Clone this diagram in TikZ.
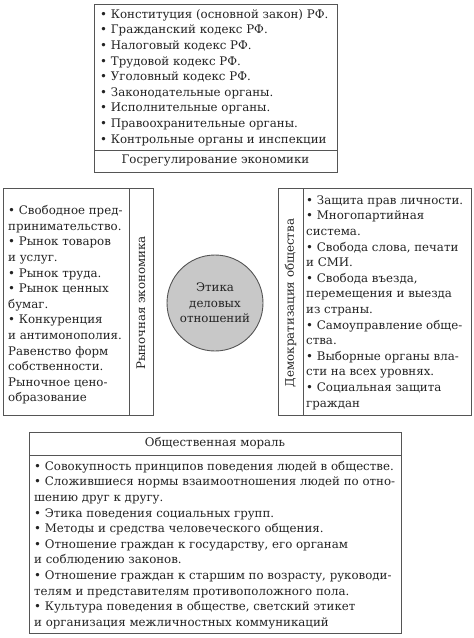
\documentclass[tikz,border=0pt]{standalone}
\usepackage{fontspec}
\setmainfont{DejaVu Serif}
\definecolor{ln}{RGB}{85,85,85}
\definecolor{tx}{RGB}{35,35,35}
\definecolor{cf}{RGB}{200,200,200}
\begin{document}
\begin{tikzpicture}[x=1pt,y=-1pt,
  every node/.style={font=\fontsize{11.8}{15.6}\selectfont,text=tx},
  boxr/.style={draw=ln,line width=0.9pt,rectangle,inner sep=0pt},
  listtext/.style={align=left,inner sep=0pt,anchor=north west}]
\useasboundingbox (0,0) rectangle (474,638);
% top box
\node[boxr,minimum width=243pt,minimum height=146pt] (toplist) at (215.5,77) {};
\node[boxr,minimum width=243pt,minimum height=22pt] (tophead) at (215.5,161) {Госрегулирование экономики};
\node[listtext,anchor=west] (toptext) at (100,77.5) {• Конституция (основной закон) РФ.\\• Гражданский кодекс РФ.\\• Налоговый кодекс РФ.\\• Трудовой кодекс РФ.\\• Уголовный кодекс РФ.\\• Законодательные органы.\\• Исполнительные органы.\\• Правоохранительные органы.\\• Контрольные органы и инспекции};
% left box
\node[boxr,minimum width=126pt,minimum height=227pt] (leftlist) at (66,301.5) {};
\node[boxr,minimum width=24pt,minimum height=227pt] (leftstrip) at (141,301.5) {};
\node[rotate=90] (leftlabel) at (141,303) {Рыночная экономика};
\node[listtext,anchor=west] (lefttext) at (8,305) {• Свободное пред-\\принимательство.\\• Рынок товаров\\и услуг.\\• Рынок труда.\\• Рынок ценных\\бумаг.\\• Конкуренция\\и антимонополия.\\Равенство форм\\собственности.\\Рыночное цено-\\образование};
% circle
\node[circle,draw=ln,fill=cf,line width=0.9pt,minimum size=96pt,inner sep=0pt,align=center] (ethics) at (215,303) {Этика\\деловых\\отношений};
% right box
\node[boxr,minimum width=25pt,minimum height=227pt] (rightstrip) at (290.5,301.5) {};
\node[rotate=90] (rightlabel) at (290.5,303) {Демократизация общества};
\node[boxr,minimum width=168pt,minimum height=227pt] (rightlist) at (387,301.5) {};
\node[listtext,anchor=west] (righttext) at (306,302.5) {• Защита прав личности.\\• Многопартийная\\система.\\• Свобода слова, печати\\и СМИ.\\• Свобода въезда,\\перемещения и выезда\\из страны.\\• Самоуправление обще-\\ства.\\• Выборные органы вла-\\сти на всех уровнях.\\• Социальная защита\\граждан};
% bottom box
\node[boxr,minimum width=372pt,minimum height=23pt] (bothead) at (215,443.5) {Общественная мораль};
\node[boxr,minimum width=372pt,minimum height=178pt] (botlist) at (215,544) {};
\node[listtext,anchor=west] (bottext) at (34,545) {• Совокупность принципов поведения людей в обществе.\\• Сложившиеся нормы взаимоотношения людей по отно-\\шению друг к другу.\\• Этика поведения социальных групп.\\• Методы и средства человеческого общения.\\• Отношение граждан к государству, его органам\\и соблюдению законов.\\• Отношение граждан к старшим по возрасту, руководи-\\телям и представителям противоположного пола.\\• Культура поведения в обществе, светский этикет\\и организация межличностных коммуникаций};
\end{tikzpicture}
\end{document}
